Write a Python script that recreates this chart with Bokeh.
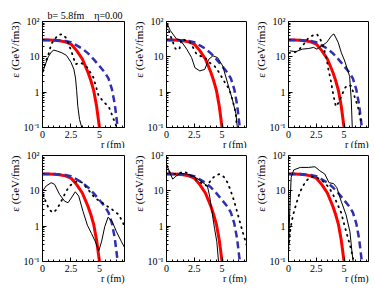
import math
from bokeh.plotting import figure
from bokeh.layouts import gridplot
from bokeh.models import FixedTicker, Range1d, Title
from bokeh.embed import file_html
from bokeh.resources import INLINE

# ---- data ----
x_ticks = [0, 2.5, 5]
x_tick_labels = ["0", "2.5", "5"]
y_ticks = [0.1, 1, 10, 100]
y_tick_labels = ["10\u207b\u00b9", "1", "10", "10\u00b2"]

# model curves (same in every panel)
red_r = [0, 0.5, 1.0, 1.5, 2.0, 2.5, 3.0, 3.5, 4.0, 4.25, 4.5, 4.75, 5.0]
red_e = [30, 30, 29.5, 28.5, 26.5, 23, 15, 8.7, 3.6, 2.1, 1.1, 0.4, 0.1]
blue_r = [0, 1.0, 2.0, 2.5, 3.0, 3.5, 4.0, 4.5, 5.0, 5.5, 5.8, 6.1, 6.35, 6.6]
blue_e = [30, 30, 28, 26, 21, 17, 12.5, 8.5, 5.5, 3.5, 2.4, 1.2, 0.45, 0.1]

# panel 1 (top left)
thin1_r = [0, 0.2, 0.5, 0.8, 1.0, 1.3, 1.7, 2.1, 2.5, 2.75, 2.9, 3.0, 3.1, 3.25, 3.45]
thin1_e = [3.5, 5.5, 10, 14, 15.5, 14.5, 13, 11, 7, 4.5, 2.5, 1.1, 0.4, 0.17, 0.1]
dot1_r = [0.03, 0.26, 0.56, 0.76, 1.35, 1.74, 2.09, 2.5, 2.91, 3.35, 3.94, 4.47, 4.91, 5.26, 5.85, 6.35, 6.53]
dot1_e = [3.9, 6.9, 12.8, 22.9, 41, 44, 34, 15.5, 6.2, 6.9, 5.0, 2.6, 0.83, 0.58, 0.37, 0.14, 0.1]

# panel 2 (top middle)
thin2_r = [0.06, 0.35, 0.9, 1.24, 1.82, 2.26, 2.56, 3.0, 3.44, 3.8, 4.18, 4.6, 5.06, 5.5, 5.94, 6.24, 6.38]
thin2_e = [86, 55, 32, 30, 16.5, 9.5, 4.9, 4.0, 4.4, 8.5, 10.7, 9.5, 5.5, 1.8, 0.6, 0.25, 0.1]
dot2_r = [0.06, 0.25, 0.5, 0.8, 1.15, 1.38, 1.8, 2.1, 2.41, 2.7, 3.0, 3.45, 3.88, 4.32, 4.76, 5.2, 5.65, 5.94, 6.24, 6.32]
dot2_e = [77, 50, 30, 17, 16, 32, 29, 26, 18, 12, 10.7, 9.5, 6.8, 5.5, 3.5, 2.0, 1.2, 0.6, 0.25, 0.11]

# panel 3 (top right)
thin3_r = [0.1, 0.65, 1.24, 1.82, 2.26, 2.56, 3.0, 3.44, 3.88, 4.09, 4.47, 4.76, 5.06, 5.35, 5.5, 5.65, 5.74]
thin3_e = [14.8, 14, 16.5, 17.2, 18.5, 16.5, 20.5, 25.6, 40, 44.5, 25.6, 13, 7.6, 4.0, 2.8, 0.6, 0.1]
dot3_r = [0.05, 0.5, 0.95, 1.38, 1.82, 2.26, 2.56, 2.91, 3.2, 3.44, 3.59, 3.79, 4.03, 4.26, 4.47, 4.76, 5.06, 5.35, 5.65, 5.94, 6.24, 6.47, 6.62]
dot3_e = [13, 13, 16, 23, 35, 41.5, 44, 29, 16.5, 8.5, 4.4, 2.3, 0.85, 0.39, 0.49, 0.76, 1.3, 1.6, 1.5, 0.76, 0.39, 0.18, 0.12]

# panel 4 (bottom left)
thin4_r = [0, 0.32, 0.76, 1.06, 1.5, 1.94, 2.24, 2.53, 2.88, 3.18, 3.56, 3.94, 4.29, 4.65, 4.94, 5.18, 5.47, 5.76, 6.12, 6.5, 6.94, 7.2]
thin4_e = [9.8, 13.7, 17, 15.3, 7.9, 5.1, 4.6, 6.3, 9.4, 7.1, 2.6, 1.07, 0.63, 0.36, 0.2, 0.36, 0.98, 1.8, 1.35, 0.69, 0.36, 0.25]
dot4_r = [0.06, 0.32, 0.62, 0.91, 1.21, 1.5, 1.79, 2.09, 2.38, 2.76, 3.12, 3.5, 3.85, 4.24, 4.59, 5.03, 5.47, 5.91, 6.35, 6.71, 7.09, 7.2]
dot4_e = [7.9, 4.6, 2.9, 2.4, 2.9, 4.1, 6.3, 9.8, 13.7, 17, 19, 17, 12.3, 8.9, 6.3, 5.1, 4.1, 3.3, 2.6, 2.1, 1.2, 1.0]

# panel 5 (bottom middle)
thin5_r = [0.06, 0.35, 0.56, 0.85, 1.24, 1.82, 2.41, 2.85, 3.29, 3.68, 3.88, 4.09, 4.32, 4.53, 4.68]
thin5_e = [51, 30, 21.5, 26, 31, 30, 26, 21.5, 17, 13.7, 7.1, 2.6, 0.87, 0.36, 0.1]
dot5_r = [0.06, 0.29, 0.65, 1.1, 1.53, 1.97, 2.41, 2.85, 3.29, 3.68, 4.03, 4.38, 4.76, 5.15, 5.5, 5.79, 6.09, 6.38, 6.68, 7.03, 7.2]
dot5_e = [51, 33, 30, 31, 35, 31, 24, 19, 15.4, 13.7, 21.5, 26, 30, 25, 17, 9.8, 5.1, 2.4, 1.07, 0.45, 0.3]

# panel 6 (bottom right)
thin6_r = [0, 0.12, 0.24, 0.47, 1.06, 1.79, 2.38, 2.82, 3.26, 3.65, 4.06, 4.35, 4.74, 5.18, 5.53, 5.71, 5.82]
thin6_e = [0.19, 3.2, 24, 39, 46, 46, 48, 37, 30, 17, 16, 12.3, 5.1, 2.1, 0.69, 0.19, 0.1]
dot6_r = [0, 0.09, 0.18, 0.32, 0.47, 0.68, 0.91, 1.21, 1.59, 2.0, 2.38, 2.82, 3.26, 3.65, 4.0, 4.35, 4.74, 5.03, 5.32, 5.62, 5.82]
dot6_e = [0.23, 0.45, 0.87, 1.5, 2.4, 4.1, 7.1, 12.3, 19, 25, 25, 21.5, 17, 12.3, 7.9, 4.6, 2.4, 1.07, 0.5, 0.23, 0.12]

panels = [
    (thin1_r, thin1_e, dot1_r, dot1_e),
    (thin2_r, thin2_e, dot2_r, dot2_e),
    (thin3_r, thin3_e, dot3_r, dot3_e),
    (thin4_r, thin4_e, dot4_r, dot4_e),
    (thin5_r, thin5_e, dot5_r, dot5_e),
    (thin6_r, thin6_e, dot6_r, dot6_e),
]

FONT = "Liberation Serif"
NB = "\u00a0"
x_minor = [0.5 * i for i in range(1, 15) if 0.5 * i not in x_ticks]
y_minor = [m * d for d in (0.1, 1, 10) for m in range(2, 10)]


def title(text, align, size="10px", standoff=0, offset=0):
    return Title(text=text, align=align, offset=offset, standoff=standoff,
                 text_font=FONT, text_font_size=size,
                 text_font_style="normal", text_color="black")


figs = []
for i, (tr, te, dr, de) in enumerate(panels):
    row, col = divmod(i, 3)
    left = 42 if col == 0 else 34
    top = 21 if row == 0 else 7
    bottom = 21 if row == 0 else 31
    p = figure(width=left + 82 + 6, height=top + 106 + bottom,
               y_axis_type="log",
               x_range=Range1d(0, 7.2), y_range=Range1d(0.1, 100),
               output_backend="svg", toolbar_location=None,
               min_border_left=left, min_border_right=6,
               min_border_top=top, min_border_bottom=bottom)
    p.grid.visible = False
    p.outline_line_color = "black"
    p.outline_line_width = 1
    p.background_fill_color = "white"
    p.border_fill_color = "white"

    p.xaxis.ticker = FixedTicker(ticks=x_ticks, minor_ticks=x_minor)
    p.xaxis.major_label_overrides = {t: l for t, l in zip(x_ticks, x_tick_labels)}
    p.yaxis.ticker = FixedTicker(ticks=y_ticks, minor_ticks=y_minor)
    p.yaxis.major_label_overrides = {t: l for t, l in zip(y_ticks, y_tick_labels)}
    for ax in (p.xaxis[0], p.yaxis[0]):
        ax.axis_line_color = "black"
        ax.major_tick_in = 4
        ax.major_tick_out = 0
        ax.minor_tick_in = 2
        ax.minor_tick_out = 0
        ax.major_tick_line_color = "black"
        ax.minor_tick_line_color = "black"
        ax.major_label_text_font = FONT
        ax.major_label_text_font_size = "10px"
        ax.major_label_text_color = "black"
        ax.major_label_standoff = 3

    # axis titles, ROOT style: at the far end of each axis
    p.add_layout(title("r (fm)", "right", standoff=-8), "below")
    p.add_layout(title("\u03b5 (GeV/fm3)", "right", size="11px", standoff=0), "left")

    p.line(red_r, red_e, line_color="#ff0000", line_width=3)
    p.line(blue_r, blue_e, line_color="#2f2fb0", line_width=2.5, line_dash="7 4")
    p.line(tr, te, line_color="black", line_width=1)
    p.line(dr, de, line_color="black", line_width=1.8, line_dash="1 5", line_cap="round")

    if i == 0:
        p.add_layout(title("b= 5.8fm" + NB * 4 + "\u03b7=0.00", "left", offset=5, standoff=1), "above")
    figs.append(p)

grid = gridplot([figs[0:3], figs[3:6]], toolbar_location=None)
open("out.html", "w").write(file_html(grid, INLINE))
